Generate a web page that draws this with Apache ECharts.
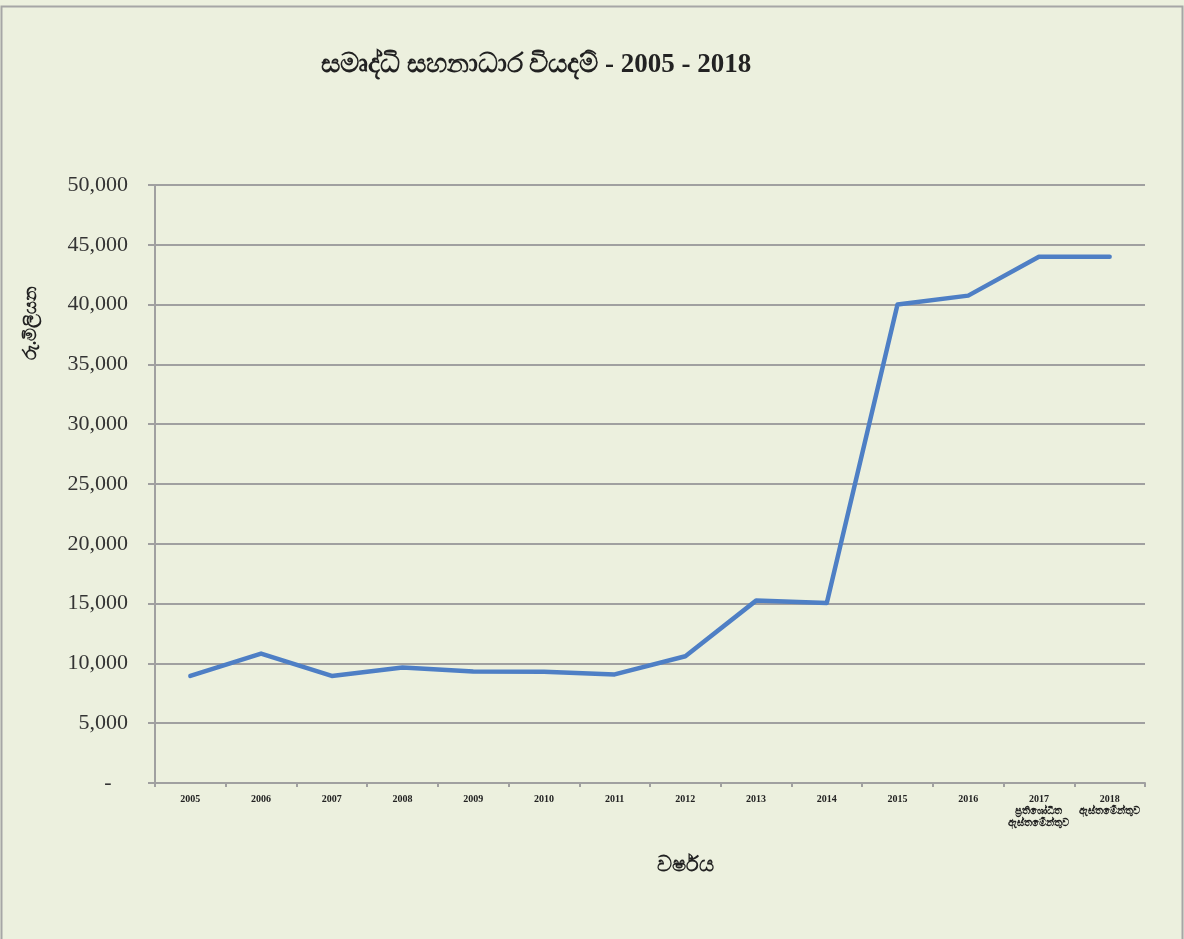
<!DOCTYPE html>
<html>
<head>
<meta charset="utf-8">
<script src="https://cdn.jsdelivr.net/npm/echarts@6/dist/echarts.min.js"></script>
<style>
html,body{margin:0;padding:0;background:#fff;}
#c{width:1184px;height:939px;}
</style>
</head>
<body>
<div id="c"></div>
<script>
const categories = ['2005','2006','2007','2008','2009','2010','2011','2012','2013','2014','2015','2016','2017\nප්‍රතිශෝධිත\nඇස්තමේන්තුව','2018\nඇස්තමේන්තුව'];
const expenditure = [8950, 10820, 8950, 9650, 9320, 9300, 9080, 10600, 15250, 15050, 40000, 40750, 44000, 44000];
const yTicks = [0, 5000, 10000, 15000, 20000, 25000, 30000, 35000, 40000, 45000, 50000];
const titleText = 'සමෘද්ධි සහනාධාර වියදම් - 2005 - 2018';
const yName = 'රු.මිලියන';
const xName = 'වර්ෂය';

const chart = echarts.init(document.getElementById('c'));
const serif = '"Palatino Linotype","Book Antiqua","Liberation Serif","DejaVu Serif",serif';
chart.setOption({
  animation: false,
  backgroundColor: '#ECF0DE',
  title: {
    text: titleText,
    left: 531, top: 47, textAlign: 'center',
    textStyle: {fontFamily: serif, fontSize: 27, fontWeight: 'bold', color: '#222'}
  },
  graphic: [
    {type: 'rect', shape: {x: 1.5, y: 6.5, width: 1181, height: 940}, style: {fill: 'none', stroke: '#A6A6A6', lineWidth: 2}, silent: true},
    {type: 'text', x: 31, y: 323, rotation: Math.PI / 2,
     style: {text: yName, fontSize: 18, fontWeight: 'bold', fill: '#222', align: 'center', verticalAlign: 'middle', fontFamily: serif}},
    {type: 'text', x: 685, y: 866,
     style: {text: xName, fontSize: 21, fontWeight: 'bold', fill: '#222', align: 'center', verticalAlign: 'middle', fontFamily: serif}}
  ],
  grid: {left: 155, right: 39, top: 185, bottom: 156, containLabel: false},
  xAxis: {
    type: 'category',
    data: categories,
    boundaryGap: true,
    axisLine: {lineStyle: {color: '#A0A0A0', width: 2}},
    axisTick: {show: true, length: 4, lineStyle: {color: '#A0A0A0', width: 2}},
    axisLabel: {fontFamily: serif, fontSize: 10, fontWeight: 'bold', color: '#222', margin: 10, interval: 0, lineHeight: 12}
  },
  yAxis: {
    type: 'value',
    min: 0, max: 50000, interval: 5000,
    axisLine: {show: true, lineStyle: {color: '#A0A0A0', width: 2}},
    axisTick: {show: true, length: 7, lineStyle: {color: '#A0A0A0', width: 2}},
    splitLine: {lineStyle: {color: '#A0A0A0', width: 2}},
    axisLabel: {
      fontFamily: serif, fontSize: 22, color: '#333', margin: 27,
      formatter: function (v) { return v === 0 ? '-   ' : v.toLocaleString('en-US'); }
    }
  },
  series: [{
    type: 'line',
    data: expenditure,
    symbol: 'none',
    lineStyle: {color: '#4E7FC5', width: 4.5, cap: 'round', join: 'round'},
    itemStyle: {color: '#4E7FC5'}
  }]
});
</script>
</body>
</html>
